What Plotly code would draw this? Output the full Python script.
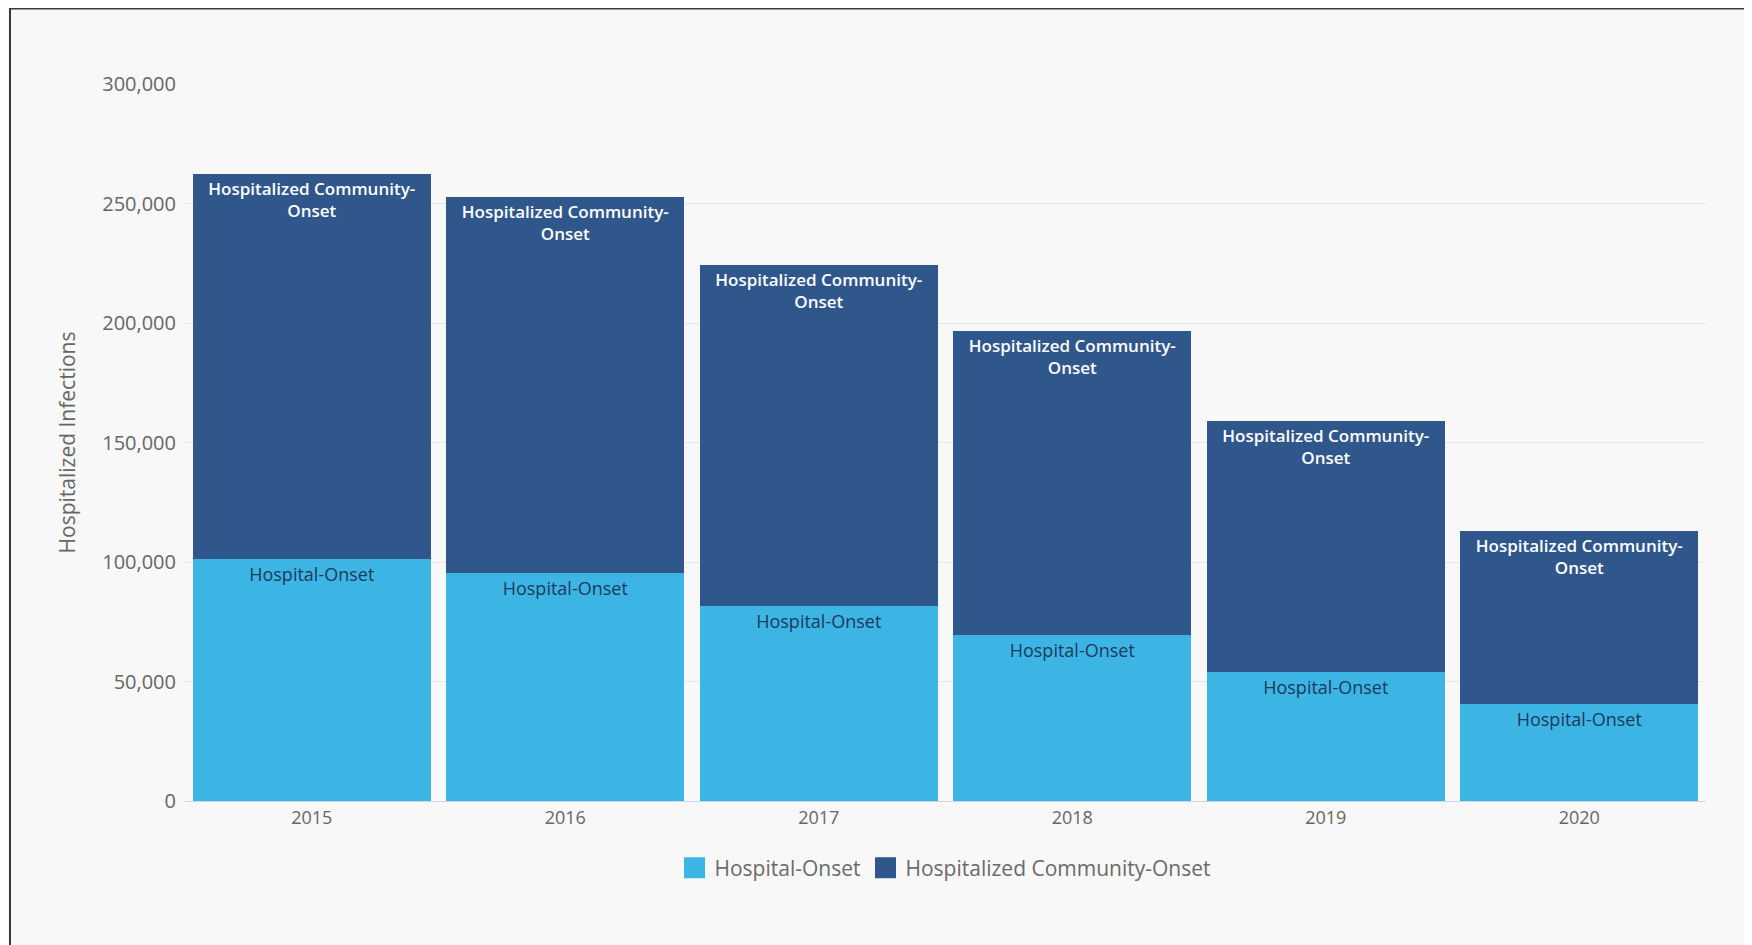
import plotly.graph_objects as go

years = ["2015", "2016", "2017", "2018", "2019", "2020"]
hospital_onset = [101300, 95300, 81800, 69600, 54100, 40500]
community_onset = [160900, 157600, 142600, 127200, 104900, 72600]
series_names = ["Hospital-Onset", "Hospitalized Community-Onset"]
y_ticks = [0, 50000, 100000, 150000, 200000, 250000, 300000]

# page has an 8px body margin, so the figure is sized/offset accordingly
OFF = 8
W, H = 1752 - OFF, 945 - OFF
ML, MT = 185 - OFF, 84 - OFF
PR, PB = 1706 - OFF, 801 - OFF
MR, MB = W - PR, H - PB
PW, PH = PR - ML, PB - MT

def px_x(p):
    return (p - ML) / PW

def px_y(p):
    return (PB - p) / PH

FONT = "Open Sans"
LIGHT = "#3cb5e5"
DARK = "#2f578b"

fig = go.Figure()
fig.add_trace(go.Bar(
    x=years, y=hospital_onset, name=series_names[0], showlegend=False,
    marker=dict(color=LIGHT, line=dict(width=0)),
    text=[series_names[0]] * len(years),
    textposition="inside", insidetextanchor="end", textangle=0,
    textfont=dict(family=FONT, size=18, color="#1d3a5a"),
    constraintext="none",
))
fig.add_trace(go.Bar(
    x=years, y=community_onset, name=series_names[1], showlegend=False,
    marker=dict(color=DARK, line=dict(width=0)),
    text=["Hospitalized Community-<br>Onset"] * len(years),
    textposition="inside", insidetextanchor="end", textangle=0,
    textfont=dict(family=FONT, size=17, color="white", weight=600),
    constraintext="none",
))
# legend entries with larger square keys
for name, col in zip(series_names, [LIGHT, DARK]):
    fig.add_trace(go.Scatter(
        x=[None], y=[None], mode="markers", name=name,
        marker=dict(symbol="square", size=16, color=col,
                    line=dict(color=col, width=5)),
        hoverinfo="skip",
    ))

shapes = [
    dict(type="line", xref="paper", yref="paper", layer="below",
         x0=px_x(2), x1=px_x(2), y0=px_y(H + 5), y1=px_y(0),
         line=dict(color="#3a3a3a", width=2)),
    dict(type="line", xref="paper", yref="paper", layer="below",
         x0=px_x(1), x1=px_x(W + 5), y0=px_y(0.5), y1=px_y(0.5),
         line=dict(color="#3a3a3a", width=2)),
]

fig.update_layout(
    width=W, height=H,
    margin=dict(l=ML, r=MR, t=MT, b=MB, pad=0),
    barmode="stack", bargap=0.061,
    paper_bgcolor="#f8f8f8", plot_bgcolor="#f8f8f8",
    font=dict(family=FONT, color="#666666"),
    shapes=shapes,
    showlegend=True,
    legend=dict(orientation="h", x=0.5, xanchor="center",
                y=px_y(868 - OFF), yanchor="middle",
                font=dict(family=FONT, size=21, color="#6a6a6a"),
                traceorder="normal", itemwidth=30, itemsizing="trace",
                bgcolor="rgba(0,0,0,0)"),
)
fig.update_xaxes(
    type="category", showgrid=False, showline=True, linecolor="#ccd6eb",
    linewidth=1, ticks="", tickfont=dict(family=FONT, size=18, color="#666666"),
    zeroline=False,
)
fig.update_yaxes(
    range=[0, 300000], tickvals=y_ticks, tickformat=",",
    showgrid=True, gridcolor="#e6e6e6", gridwidth=1, zeroline=False,
    showline=False, ticks="", ticklabelstandoff=8,
    tickfont=dict(family=FONT, size=20, color="#666666"),
    title=dict(text="Hospitalized Infections", standoff=20,
               font=dict(family=FONT, size=21, color="#666666")),
)

fig.write_html("out.html")
